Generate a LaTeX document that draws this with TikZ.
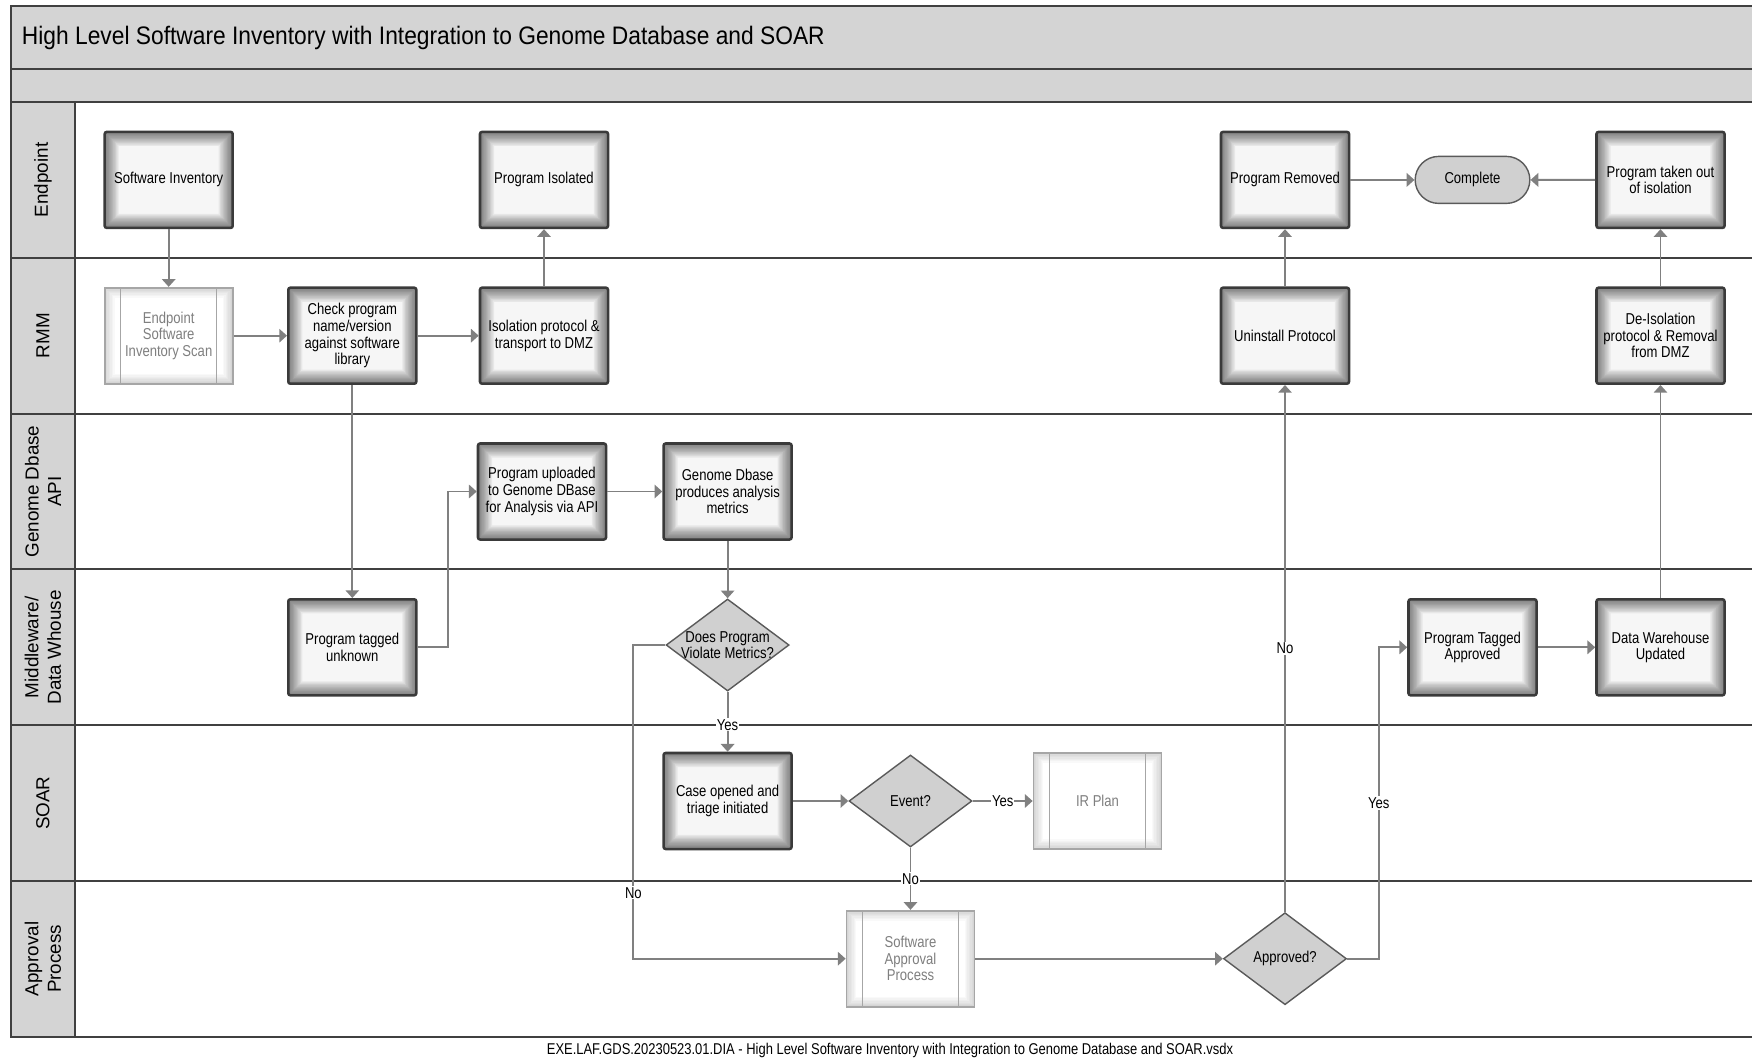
\documentclass[tikz,border=0pt]{standalone}
\usepackage{fontspec}
\setmainfont{Liberation Sans}[FakeStretch=0.83]
\newfontfamily\lanefont{Liberation Sans}
\newfontfamily\titlefont{Liberation Sans}[FakeStretch=0.9]
\usetikzlibrary{shapes.geometric, shapes.misc, arrows.meta}

\definecolor{bandgray}{HTML}{D4D4D4}
\definecolor{laneline}{HTML}{404040}
\definecolor{flowgray}{HTML}{808080}
\definecolor{boxline}{HTML}{3A3A3A}
\definecolor{boxfill}{HTML}{F6F6F6}
\definecolor{subline}{HTML}{A6A6A6}
\definecolor{subtext}{HTML}{7F7F7F}
\definecolor{decfill}{HTML}{D0D0D0}
\definecolor{decline}{HTML}{5A5A5A}

\newcommand\taskfont{\fontsize{11.2pt}{11.8pt}\selectfont}

\begin{document}
\begin{tikzpicture}[
		x=0.025cm, y=-0.025cm,
		font=\taskfont,
		task/.style={rectangle, rounded corners=1.5pt, draw=boxline, line width=1.8pt, fill=boxfill,
			minimum width=3.2cm, minimum height=2.4cm, align=center, inner sep=2pt,
			path picture={\foreach \w in {2,4,...,20}
				\draw[black, opacity=0.06, line width=\w pt] (path picture bounding box.south west) rectangle (path picture bounding box.north east);}},
		subproc/.style={rectangle, draw=subline, line width=1.2pt, fill=white, text=subtext,
			minimum width=3.2cm, minimum height=2.4cm, align=center, inner sep=2pt,
			path picture={\foreach \w in {2,4,...,14}
				\draw[black, opacity=0.025, line width=\w pt] (path picture bounding box.south west) rectangle (path picture bounding box.north east);
				\draw[subline, line width=1pt] ([xshift=0.4cm]path picture bounding box.south west) -- ([xshift=0.4cm]path picture bounding box.north west);
				\draw[subline, line width=1pt] ([xshift=-0.4cm]path picture bounding box.south east) -- ([xshift=-0.4cm]path picture bounding box.north east);}},
		decision/.style={diamond, draw=decline, line width=1pt, fill=decfill, inner sep=0pt,
			minimum width=3.075cm, minimum height=2.3cm},
		dectext/.style={align=center, inner sep=0pt, font=\taskfont},
		terminal/.style={rounded rectangle, draw=decline, line width=1pt, fill=decfill,
			minimum width=3.1cm, minimum height=1.175cm},
		lanelabel/.style={rotate=90, align=center, font=\lanefont\fontsize{13.4pt}{16pt}\selectfont},
		lane/.style={draw=laneline, line width=1.4pt},
		flow/.style={draw=flowgray, line width=1.4pt, -{Triangle[length=5.5pt, width=9.5pt]}},
		lbl/.style={fill=white, inner sep=0.8pt, font=\taskfont}
		]
		\useasboundingbox (0,0) rectangle (1752,1059);
		\clip (0,0) rectangle (1752,1059);
		
		% Title bands and lane column
		\fill[bandgray] (11,6) rectangle (1770,102);
		\fill[bandgray] (11,102) rectangle (75,1036.8);
		\draw[lane] (11,69) -- (1770,69);
		\node[anchor=west, font=\titlefont\fontsize{18pt}{20pt}\selectfont] (title) at (17,37.5)
			{High Level Software Inventory with Integration to Genome Database and SOAR};
		
		% Lanes
		\foreach \lbl [count=\i from 0] in {Endpoint, RMM, {Genome Dbase\\API}, {Middleware/\\Data Whouse}, SOAR, {Approval\\Process}} {
			\node[lanelabel] (lane\i) at (43, {102+155.8*\i+77.9}) {\lbl};
			\draw[lane] (11, {102+155.8*\i}) -- (1770, {102+155.8*\i});
		}
		\draw[lane] (75,102) -- (75,1036.8);
		\draw[lane] (11,6) rectangle (1770,1036.8);
		
		% Endpoint
		\node[task] (softinv) at (168.7,179.9) {Software Inventory};
		\node[task] (isolated) at (544,179.9) {Program Isolated};
		\node[task] (removed) at (1285,179.9) {Program Removed};
		\node[terminal] (complete) at (1472.5,179.9) {Complete};
		\node[task] (takenout) at (1660.5,179.9) {Program taken out\\of isolation};
		
		% RMM
		\node[subproc] (scan) at (168.7,335.7) {Endpoint\\Software\\Inventory Scan};
		\node[task] (check) at (352.3,335.7) {Check program\\name/version\\against software\\library};
		\node[task] (isolation) at (544,335.7) {Isolation protocol \&\\transport to DMZ};
		\node[task] (uninstall) at (1285,335.7) {Uninstall Protocol};
		\node[task] (deiso) at (1660.5,335.7) {De-Isolation\\protocol \& Removal\\from DMZ};
		
		% Genome Dbase API
		\node[task] (upload) at (542,491.5) {Program uploaded\\to Genome DBase\\for Analysis via API};
		\node[task] (metrics) at (727.6,491.5) {Genome Dbase\\produces analysis\\metrics};
		
		% Middleware / Data Whouse
		\node[task] (tagunk) at (352.3,647.3) {Program tagged\\unknown};
		\node[decision, label={[dectext]center:Does Program\\Violate Metrics?}] (violate) at (727.6,645) {};
		\node[task] (tagapp) at (1472.5,647.3) {Program Tagged\\Approved};
		\node[task] (dwupd) at (1660.5,647.3) {Data Warehouse\\Updated};
		
		% SOAR
		\node[task] (case) at (727.6,801) {Case opened and\\triage initiated};
		\node[decision] (event) at (910.5,801) {Event?};
		\node[subproc] (irplan) at (1097.5,801) {IR Plan};
		
		% Approval Process
		\node[subproc] (swapp) at (910.5,958.7) {Software\\Approval\\Process};
		\node[decision] (approved) at (1285,958.7) {Approved?};
		
		% Footer
		\node[font=\fontsize{11.1pt}{13pt}\selectfont] (footer) at (890,1050)
			{EXE.LAF.GDS.20230523.01.DIA - High Level Software Inventory with Integration to Genome Database and SOAR.vsdx};
		
		% Connectors
		\draw[flow] (softinv) -- (scan);
		\draw[flow] (scan) -- (check);
		\draw[flow] (check) -- (isolation);
		\draw[flow] (isolation) -- (isolated);
		\draw[flow] (check) -- (tagunk);
		\draw[flow] (tagunk.east) -- ++(30.6,0) |- (upload.west);
		\draw[flow] (upload) -- (metrics);
		\draw[flow] (metrics) -- (violate);
		\draw[flow] (violate) -- node[lbl, pos=0.55] {Yes} (case);
		\draw[flow] (violate.west) -- ++(-32,0) |- node[lbl, pos=0.395] {No} (swapp.west);
		\draw[flow] (case) -- (event);
		\draw[flow] (event) -- node[lbl] {Yes} (irplan);
		\draw[flow] (event) -- node[lbl] {No} (swapp);
		\draw[flow] (swapp) -- (approved);
		\draw[flow] (approved) -- node[lbl] {No} (uninstall);
		\draw[flow] (approved.east) -- ++(31.5,0) |- node[lbl, pos=0.25] {Yes} (tagapp.west);
		\draw[flow] (tagapp) -- (dwupd);
		\draw[flow] (dwupd) -- (deiso);
		\draw[flow] (deiso) -- (takenout);
		\draw[flow] (uninstall) -- (removed);
		\draw[flow] (removed) -- (complete);
		\draw[flow] (takenout) -- (complete);
		
	\end{tikzpicture}
\end{document}
